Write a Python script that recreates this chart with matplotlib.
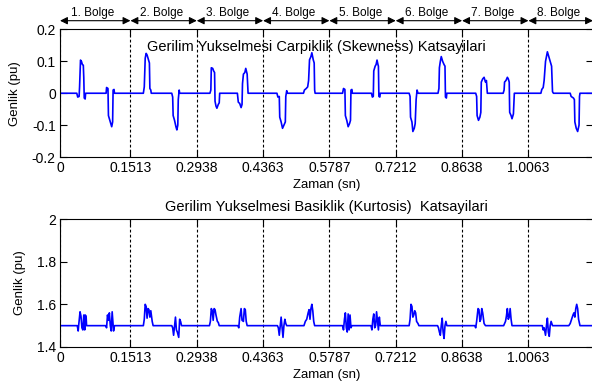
import matplotlib
matplotlib.use('Agg')
from matplotlib import pyplot as plt

plt.rcParams['font.family'] = ['Liberation Sans', 'DejaVu Sans']

# region boundaries (s) and labels
tick_pos = [0, 0.1513, 0.2938, 0.4363, 0.5787, 0.7212, 0.8638, 1.0063]
tick_labels = ['0', '0.1513', '0.2938', '0.4363', '0.5787', '0.7212', '0.8638', '1.0063']
t_end = 1.145
region_labels = ['1. Bolge', '2. Bolge', '3. Bolge', '4. Bolge',
                 '5. Bolge', '6. Bolge', '7. Bolge', '8. Bolge']

# skewness trace
skew_t = [0.0,
          0.036, 0.038, 0.041, 0.042, 0.044, 0.046, 0.048, 0.050, 0.051, 0.052, 0.054, 0.055,
          0.099, 0.100, 0.103, 0.104, 0.107, 0.109, 0.111, 0.113, 0.114, 0.116, 0.117,
          0.179, 0.181, 0.183, 0.185, 0.187, 0.190, 0.192, 0.193, 0.195, 0.196,
          0.240, 0.242, 0.243, 0.246, 0.249, 0.251, 0.253, 0.254, 0.256, 0.257,
          0.322, 0.324, 0.325, 0.328, 0.330, 0.332, 0.333, 0.335, 0.337, 0.340, 0.342, 0.343,
          0.381, 0.383, 0.386, 0.389, 0.391, 0.392, 0.394, 0.397, 0.399, 0.402, 0.404,
          0.466, 0.468, 0.471, 0.472, 0.475, 0.478, 0.481, 0.484, 0.485, 0.487, 0.488,
          0.523, 0.525, 0.529, 0.532, 0.534, 0.536, 0.539, 0.541, 0.544, 0.546, 0.547, 0.548,
          0.607, 0.609, 0.612, 0.613, 0.616, 0.619, 0.622, 0.624, 0.625, 0.627, 0.628,
          0.669, 0.671, 0.673, 0.674, 0.677, 0.679, 0.681, 0.683, 0.684, 0.685, 0.687, 0.688,
          0.750, 0.752, 0.753, 0.756, 0.758, 0.761, 0.763, 0.765, 0.767, 0.769,
          0.812, 0.814, 0.815, 0.817, 0.819, 0.822, 0.825, 0.827, 0.828, 0.830, 0.831,
          0.893, 0.895, 0.896, 0.899, 0.902, 0.904, 0.905, 0.908, 0.911, 0.914, 0.916, 0.918,
          0.952, 0.954, 0.955, 0.958, 0.961, 0.963, 0.965, 0.966, 0.969, 0.971, 0.974, 0.976,
          1.033, 1.035, 1.038, 1.040, 1.043, 1.047, 1.050, 1.053, 1.056, 1.058, 1.060,
          1.096, 1.098, 1.103, 1.105, 1.106, 1.109, 1.112, 1.115, 1.116, 1.117,
          1.145]
skew_v = [0.0,
          0, -0.012, -0.01, 0.02, 0.104, 0.1, 0.09, 0.088, 0.05, -0.015, -0.018, 0,
          0, 0.018, 0.015, -0.07, -0.085, -0.095, -0.105, -0.09, 0.01, 0.012, 0,
          0, 0.02, 0.11, 0.125, 0.12, 0.105, 0.095, 0.015, 0.01, 0,
          0, -0.012, -0.07, -0.085, -0.105, -0.115, -0.1, -0.02, 0.01, 0,
          0, 0.01, 0.08, 0.078, 0.07, 0.065, -0.025, -0.04, -0.047, -0.035, -0.03, 0,
          0, -0.028, -0.032, -0.045, -0.035, 0.03, 0.06, 0.065, 0.078, 0.06, 0,
          0, -0.012, -0.01, -0.075, -0.09, -0.11, -0.1, -0.09, -0.01, 0.008, 0,
          0, 0.01, 0.015, 0.02, 0.04, 0.105, 0.115, 0.127, 0.105, 0.095, 0.01, 0,
          0, 0.015, 0.012, -0.07, -0.085, -0.105, -0.095, -0.085, 0.01, 0.012, 0,
          0, -0.012, -0.01, 0.07, 0.085, 0.09, 0.104, 0.09, 0.085, -0.01, -0.012, 0,
          0, -0.01, -0.075, -0.09, -0.12, -0.11, -0.095, -0.02, 0.01, 0,
          0, 0.015, 0.08, 0.1, 0.115, 0.1, 0.09, 0.085, -0.012, -0.015, 0,
          0, -0.01, -0.07, -0.085, -0.075, -0.06, 0.035, 0.045, 0.05, 0.035, 0.04, 0,
          0, 0.01, 0.035, 0.04, 0.05, 0.045, 0.035, -0.06, -0.07, -0.08, -0.065, 0,
          0, 0.012, 0.018, 0.04, 0.1, 0.13, 0.115, 0.1, 0.085, 0.005, 0,
          0, -0.01, -0.015, -0.02, -0.09, -0.11, -0.12, -0.1, -0.01, 0,
          0.0]

# kurtosis trace
kurt_t = [0.0,
          0.037, 0.039, 0.040, 0.043, 0.045, 0.047, 0.049, 0.051, 0.053, 0.054, 0.056, 0.057,
          0.098, 0.100, 0.102, 0.104, 0.106, 0.108, 0.110, 0.112, 0.114, 0.115, 0.117,
          0.179, 0.181, 0.183, 0.185, 0.187, 0.189, 0.191, 0.193, 0.195, 0.198, 0.200,
          0.240, 0.242, 0.244, 0.246, 0.248, 0.250, 0.252, 0.255, 0.257, 0.259, 0.261,
          0.321, 0.323, 0.325, 0.327, 0.329, 0.331, 0.333, 0.335, 0.338, 0.340, 0.342,
          0.382, 0.384, 0.386, 0.389, 0.391, 0.394, 0.396, 0.398, 0.400, 0.402,
          0.467, 0.469, 0.471, 0.473, 0.475, 0.477, 0.479, 0.481, 0.483, 0.485, 0.487,
          0.524, 0.527, 0.530, 0.533, 0.535, 0.537, 0.539, 0.541, 0.543, 0.545, 0.547,
          0.607, 0.609, 0.611, 0.613, 0.615, 0.617, 0.619, 0.621, 0.623, 0.625, 0.627,
          0.668, 0.670, 0.672, 0.674, 0.676, 0.678, 0.680, 0.682, 0.684, 0.686, 0.688,
          0.750, 0.752, 0.754, 0.756, 0.758, 0.760, 0.762, 0.764, 0.766, 0.769, 0.771,
          0.811, 0.813, 0.815, 0.817, 0.819, 0.821, 0.823, 0.825, 0.827, 0.829, 0.831,
          0.891, 0.893, 0.895, 0.898, 0.900, 0.902, 0.904, 0.906, 0.908, 0.911, 0.914,
          0.953, 0.955, 0.957, 0.959, 0.961, 0.963, 0.965, 0.967, 0.969, 0.971,
          1.036, 1.038, 1.040, 1.043, 1.045, 1.047, 1.049, 1.051, 1.053, 1.055, 1.058,
          1.093, 1.096, 1.099, 1.102, 1.104, 1.106, 1.108, 1.110, 1.112, 1.114, 1.117,
          1.145]
kurt_v = [1.5,
          1.5, 1.475, 1.5, 1.565, 1.545, 1.49, 1.48, 1.55, 1.48, 1.55, 1.545, 1.5,
          1.5, 1.49, 1.55, 1.525, 1.56, 1.5, 1.475, 1.565, 1.5, 1.475, 1.5,
          1.5, 1.53, 1.6, 1.59, 1.535, 1.58, 1.575, 1.54, 1.57, 1.52, 1.5,
          1.5, 1.49, 1.455, 1.5, 1.54, 1.48, 1.47, 1.445, 1.53, 1.52, 1.5,
          1.5, 1.52, 1.58, 1.57, 1.525, 1.58, 1.575, 1.55, 1.52, 1.515, 1.5,
          1.5, 1.49, 1.54, 1.58, 1.525, 1.52, 1.58, 1.575, 1.52, 1.5,
          1.5, 1.49, 1.455, 1.5, 1.54, 1.49, 1.445, 1.5, 1.53, 1.51, 1.5,
          1.5, 1.52, 1.53, 1.56, 1.575, 1.53, 1.58, 1.6, 1.57, 1.52, 1.5,
          1.5, 1.48, 1.53, 1.56, 1.49, 1.47, 1.555, 1.48, 1.55, 1.49, 1.5,
          1.5, 1.48, 1.53, 1.555, 1.49, 1.5, 1.565, 1.52, 1.48, 1.54, 1.5,
          1.5, 1.53, 1.6, 1.59, 1.54, 1.55, 1.57, 1.56, 1.52, 1.51, 1.5,
          1.5, 1.49, 1.47, 1.455, 1.5, 1.535, 1.47, 1.44, 1.5, 1.52, 1.5,
          1.5, 1.49, 1.52, 1.58, 1.575, 1.52, 1.53, 1.58, 1.56, 1.51, 1.5,
          1.5, 1.51, 1.52, 1.545, 1.58, 1.53, 1.54, 1.58, 1.53, 1.5,
          1.5, 1.48, 1.49, 1.455, 1.5, 1.535, 1.47, 1.45, 1.5, 1.52, 1.5,
          1.5, 1.51, 1.53, 1.55, 1.56, 1.54, 1.58, 1.6, 1.58, 1.53, 1.5,
          1.5]


def style_axes(ax, ylim, yticks, ylabels):
    ax.set_xlim(0, t_end)
    ax.set_ylim(*ylim)
    ax.set_xticks(tick_pos)
    ax.set_xticklabels(tick_labels)
    ax.set_yticks(yticks)
    ax.set_yticklabels(ylabels)
    ax.tick_params(direction='in', top=True, right=True, length=5, width=0.8,
                   labelsize=10, pad=3)
    ax.grid(axis='x', color='k', linestyle=(0, (2.5, 2)), linewidth=0.8)
    for s in ax.spines.values():
        s.set_linewidth(0.8)
    ax.set_xlabel('Zaman (sn)', fontsize=9.5, labelpad=3)
    ax.set_ylabel('Genlik (pu)', fontsize=9.5, labelpad=8)


fig = plt.figure(figsize=(5.92, 3.87), dpi=100)
ax1 = fig.add_axes([0.1014, 0.5943, 0.9003, 0.3295])
ax2 = fig.add_axes([0.1014, 0.1034, 0.9003, 0.3307])

ax1.plot(skew_t, skew_v, color='#0000ff', lw=1.2)
style_axes(ax1, (-0.2, 0.2), [-0.2, -0.1, 0, 0.1, 0.2],
           ['-0.2', '-0.1', '0', '0.1', '0.2'])
ax1.text(0.551, 0.146, 'Gerilim Yukselmesi Carpiklik (Skewness) Katsayilari',
         ha='center', va='center', fontsize=10.5)

# double arrows marking the regions above the top axes
bounds = tick_pos + [t_end]
for i, lab in enumerate(region_labels):
    a, b = bounds[i], bounds[i + 1]
    ax1.annotate('', xy=(b, 0.2276), xytext=(a, 0.2276), xycoords='data',
                 arrowprops=dict(arrowstyle='<|-|>', color='k', lw=0.8,
                                 mutation_scale=11, shrinkA=0, shrinkB=0),
                 annotation_clip=False)
    ax1.text((a + b) / 2 - 0.005, 0.2515, lab, ha='center', va='center',
             fontsize=8.5, clip_on=False)

ax2.plot(kurt_t, kurt_v, color='#0000ff', lw=1.2)
style_axes(ax2, (1.4, 2.0), [1.4, 1.6, 1.8, 2.0], ['1.4', '1.6', '1.8', '2'])
ax2.set_title('Gerilim Yukselmesi Basiklik (Kurtosis)  Katsayilari',
              fontsize=10.5, pad=6)

fig.savefig('out.png', dpi=100)
